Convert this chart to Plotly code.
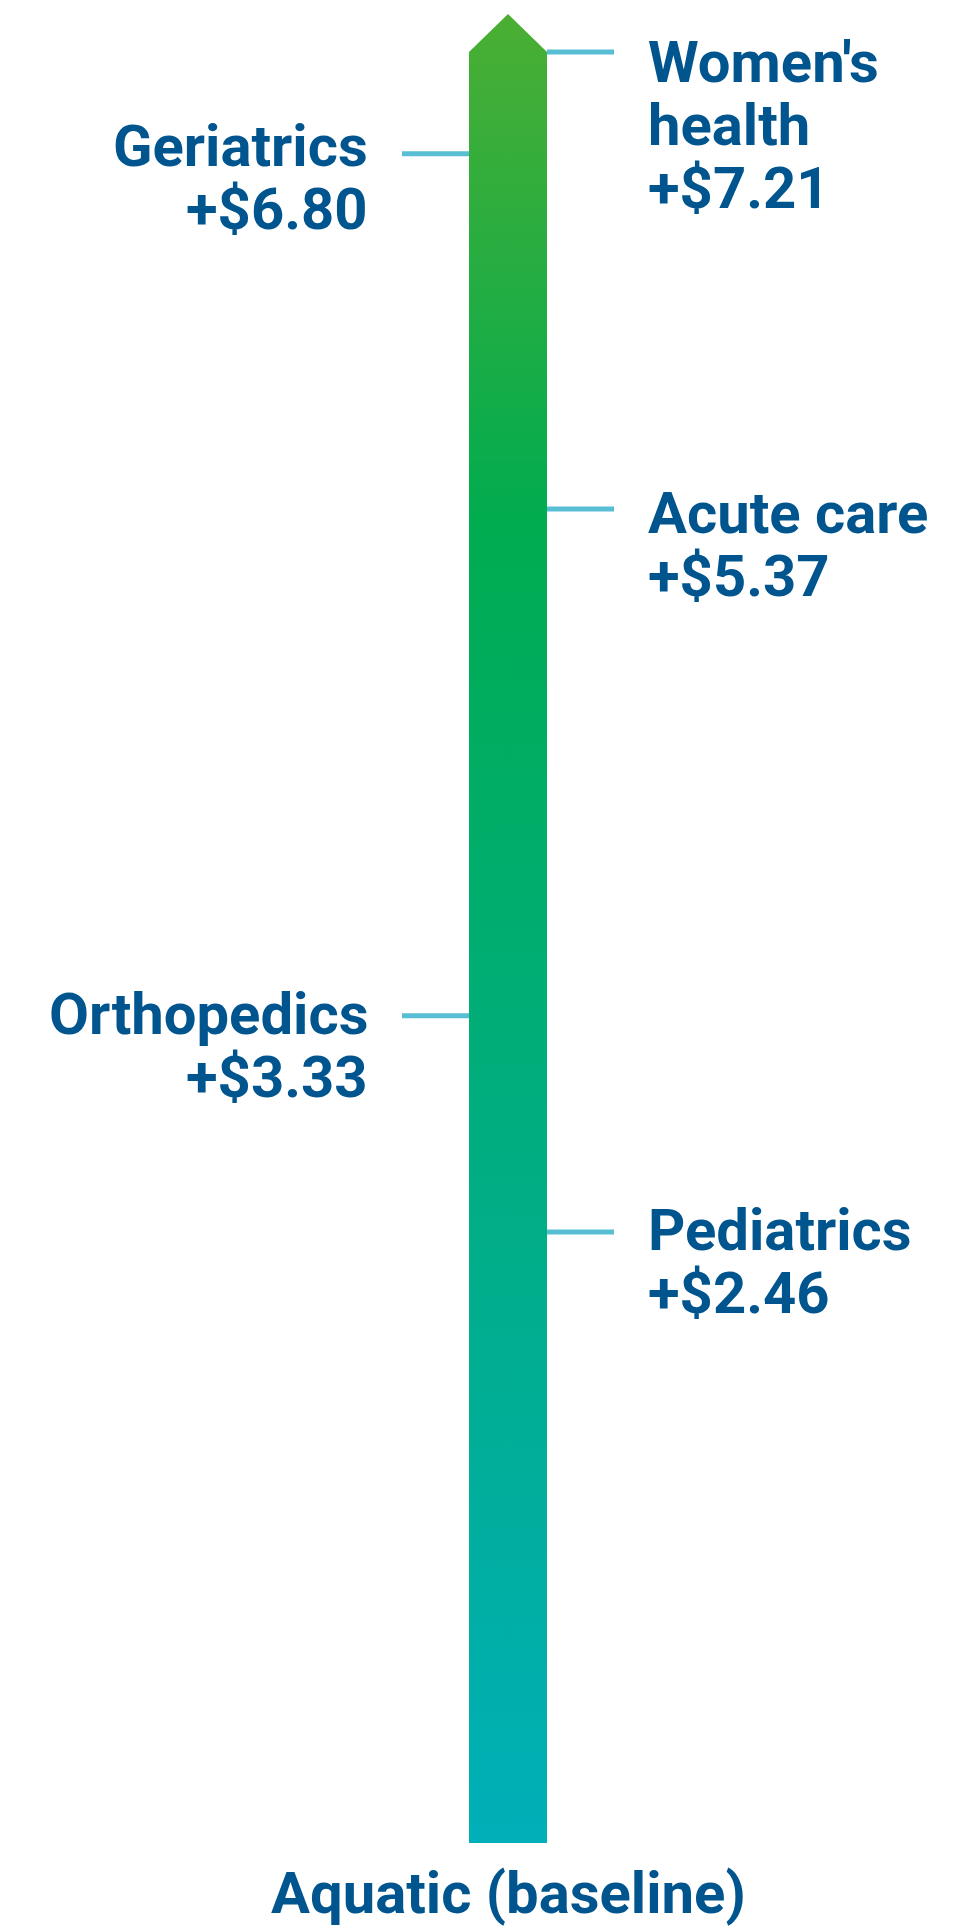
import plotly.graph_objects as go

# ---------------- data ----------------
CATEGORIES = ["Women's<br>health", "Geriatrics", "Acute care", "Orthopedics", "Pediatrics"]
VALUES = [7.21, 6.80, 5.37, 3.33, 2.46]
BASELINE_LABEL = "Aquatic (baseline)"
BASELINE_VALUE = 0.0

# ---------------- style ----------------
W, H = 958, 1931
SIDES = ["right", "left", "right", "left", "right"]
LABEL_SHIFT = [10, -8, 4, -2, -2]      # px, first-line offset below the tick
LINE_SPACING = 63                       # px between label lines
BAR_CENTER = 508                        # x (px units)
BAR_HALF = 39
TICK_LEN = 67
LABEL_GAP = 99
ARROW_PX = 38
BOTTOM_PX = 1843                        # pixel y of the baseline
TOP_PX = 52                             # pixel y of the max value
TEXT_COLOR = "#00558f"
TICK_COLOR = "#58bed4"
FONT = "Roboto"
FONT_SIZE = 58

vmax = max(VALUES)
scale = (BOTTOM_PX - TOP_PX) / (vmax - BASELINE_VALUE)   # px per unit
y_min = BASELINE_VALUE - (H - BOTTOM_PX) / scale
y_max = vmax + TOP_PX / scale

fig = go.Figure()

# gradient bar with arrow head
xl, xr = BAR_CENTER - BAR_HALF, BAR_CENTER + BAR_HALF
tip = vmax + ARROW_PX / scale
fig.add_trace(go.Scatter(
    x=[xl, xl, BAR_CENTER, xr, xr, xl],
    y=[BASELINE_VALUE, vmax, tip, vmax, BASELINE_VALUE, BASELINE_VALUE],
    mode="lines", fill="toself", line=dict(width=0),
    fillgradient=dict(
        type="vertical",
        start=BASELINE_VALUE, stop=tip,
        colorscale=[[0.0, "#00afb8"], [0.72, "#00ac50"], [1.0, "#4bae33"]],
    ),
    hoverinfo="skip", showlegend=False,
))

annotations = []
for cat, val, side, shift in zip(CATEGORIES, VALUES, SIDES, LABEL_SHIFT):
    if side == "right":
        x0, x1 = xr, xr + TICK_LEN
        lx, anchor = xr + LABEL_GAP, "left"
    else:
        x0, x1 = xl - TICK_LEN, xl
        lx, anchor = xl - LABEL_GAP, "right"
    fig.add_trace(go.Scatter(
        x=[x0, x1], y=[val, val], mode="lines",
        line=dict(color=TICK_COLOR, width=5),
        hoverinfo="skip", showlegend=False,
    ))
    lines = cat.split("<br>") + [f"+${val:.2f}"]
    for i, txt in enumerate(lines):
        annotations.append(dict(
            x=lx, y=val, xref="x", yref="y", text=txt, showarrow=False,
            xanchor=anchor, yanchor="middle",
            yshift=-(shift + i * LINE_SPACING),
            font=dict(family=FONT, size=FONT_SIZE, color=TEXT_COLOR, weight=700),
        ))

annotations.append(dict(
    x=BAR_CENTER, y=BASELINE_VALUE, xref="x", yref="y", text=BASELINE_LABEL,
    showarrow=False, xanchor="center", yanchor="middle", yshift=-50,
    borderpad=0,
    font=dict(family=FONT, size=FONT_SIZE, color=TEXT_COLOR, weight=700),
))

fig.update_layout(
    width=W, height=H,
    margin=dict(l=0, r=0, t=0, b=0),
    paper_bgcolor="white", plot_bgcolor="white",
    xaxis=dict(range=[0, W], visible=False, fixedrange=True),
    yaxis=dict(range=[y_min, y_max], visible=False, fixedrange=True),
    annotations=annotations,
    showlegend=False,
)

fig.write_html(
    "out.html",
    config={"displayModeBar": False},
    post_script="document.body.style.margin='0px';document.body.style.overflow='hidden';",
)
